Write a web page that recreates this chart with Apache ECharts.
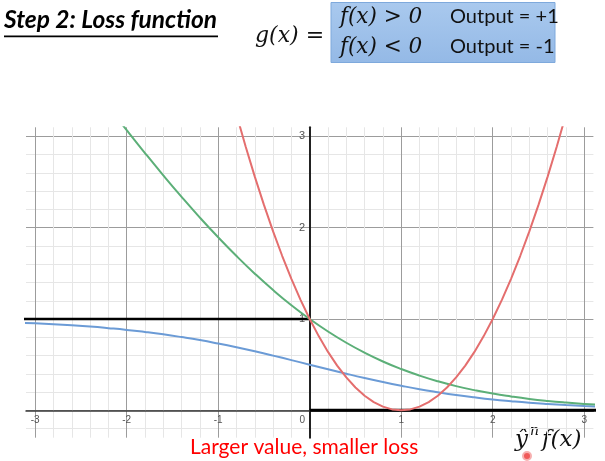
<!DOCTYPE html>
<html>
<head>
<meta charset="utf-8">
<script src="https://cdn.jsdelivr.net/npm/echarts@6/dist/echarts.min.js"></script>
<style>
html,body{margin:0;padding:0;background:#fff;}
#chart{width:605px;height:461px;}
</style>
</head>
<body>
<div id="chart"></div>
<script>
// ---- data ----
const xLabelValues = [-3, -2, -1, 0, 1, 2, 3];
const yLabelValues = [1, 2, 3];

// red curve (square loss)
const redX = [-0.8,-0.7,-0.6,-0.5,-0.4,-0.3,-0.2,-0.1,0,0.1,0.2,0.3,0.4,0.5,0.6,0.7,0.8,0.9,1.0,1.1,1.2,1.3,1.4,1.5,1.6,1.7,1.8,1.9,2.0,2.1,2.2,2.3,2.4,2.5,2.6,2.7,2.8];
const redY = [3.24,2.89,2.56,2.25,1.96,1.69,1.44,1.21,1.00,0.81,0.64,0.49,0.36,0.25,0.16,0.09,0.04,0.01,0.00,0.01,0.04,0.09,0.16,0.25,0.36,0.49,0.64,0.81,1.00,1.21,1.44,1.69,1.96,2.25,2.56,2.89,3.24];

// green curve (cross entropy)
const greenX = [-2.2,-2.0,-1.8,-1.6,-1.4,-1.2,-1.0,-0.8,-0.6,-0.4,-0.2,0,0.2,0.4,0.6,0.8,1.0,1.2,1.4,1.6,1.8,2.0,2.2,2.4,2.6,2.8,3.0,3.2];
const greenY = [3.326,3.069,2.818,2.574,2.338,2.111,1.895,1.690,1.497,1.317,1.151,1.000,0.863,0.740,0.631,0.535,0.452,0.380,0.318,0.265,0.221,0.183,0.152,0.125,0.103,0.085,0.070,0.058];

// blue curve (sigmoid)
const blueX = [-3.2,-3.0,-2.8,-2.6,-2.4,-2.2,-2.0,-1.8,-1.6,-1.4,-1.2,-1.0,-0.8,-0.6,-0.4,-0.2,0,0.2,0.4,0.6,0.8,1.0,1.2,1.4,1.6,1.8,2.0,2.2,2.4,2.6,2.8,3.0,3.2];
const blueY = [0.961,0.953,0.943,0.931,0.917,0.900,0.881,0.858,0.832,0.802,0.769,0.731,0.690,0.646,0.599,0.550,0.500,0.450,0.401,0.354,0.310,0.269,0.231,0.198,0.168,0.142,0.119,0.100,0.083,0.069,0.057,0.047,0.039];

// black ideal (step) loss
const stepLeftX = [-3.2, 0];
const stepLeftY = [1, 1];
const stepRightX = [0, 3.2];
const stepRightY = [0, 0];

function pairs(xs, ys) { return xs.map((x, i) => [x, ys[i]]); }

const MAJ = '#9c9c9c', MIN = '#e6e6e6', NONE = 'rgba(0,0,0,0)';
const isInt = v => Math.abs(v - Math.round(v)) < 1e-6;

const chart = echarts.init(document.getElementById('chart'), null, {renderer: 'canvas'});
const option = {
  animation: false,
  backgroundColor: '#fff',
  grid: {left: 26, right: 11.6, top: 127.3, bottom: 23.3, containLabel: false},
  xAxis: {
    type: 'value', min: -3.1, max: 3.1, interval: 0.1,
    axisLine: {show: true, onZero: true, lineStyle: {color: '#3a3a3a', width: 1.5}},
    axisTick: {show: false},
    axisLabel: {
      show: true, margin: -22.5, fontSize: 10, color: '#555', fontFamily: 'Liberation Sans',
      showMinLabel: true, showMaxLabel: true, hideOverlap: false,
      formatter: v => {
        if (!isInt(v)) return '';
        const r = Math.round(v);
        if (xLabelValues.indexOf(r) < 0) return '';
        if (r === 0) return '0\u2002\u2002\u2002';
        return String(r);
      }
    },
    splitLine: {show: true, lineStyle: {width: 1, color: [NONE, MAJ, NONE, MIN, NONE, MIN, NONE, MIN, NONE, MIN]}}
  },
  yAxis: {
    type: 'value', min: -0.3, max: 3.1, interval: 0.1,
    axisLine: {show: true, onZero: true, lineStyle: {color: '#222', width: 2}},
    axisTick: {show: false},
    axisLabel: {
      show: true, margin: -279.2, fontSize: 11, color: '#555', fontFamily: 'Liberation Sans',
      hideOverlap: false,
      formatter: v => {
        if (!isInt(v)) return '';
        const r = Math.round(v);
        return yLabelValues.indexOf(r) >= 0 ? String(r) : '';
      }
    },
    splitLine: {show: true, lineStyle: {width: 1, color: [NONE, MIN, NONE, MAJ, NONE, MIN, NONE, MIN, NONE, MIN]}}
  },
  series: [
    {type: 'line', data: pairs(stepLeftX, stepLeftY), showSymbol: false, lineStyle: {color: '#000', width: 2.5}, z: 3},
    {type: 'line', data: pairs(stepRightX, stepRightY), showSymbol: false, lineStyle: {color: '#000', width: 3}, z: 3},
    {type: 'line', data: pairs(blueX, blueY), smooth: true, showSymbol: false, lineStyle: {color: '#6b9bd6', width: 2}, z: 4},
    {type: 'line', data: pairs(greenX, greenY), smooth: true, showSymbol: false, lineStyle: {color: '#5caf78', width: 2}, z: 5},
    {type: 'line', data: pairs(redX, redY), showSymbol: false, lineStyle: {color: '#e46e6e', width: 2}, z: 6}
  ],
  graphic: [
    {type: 'text', left: 4, top: 8, style: {text: 'Step 2: Loss function', font: 'italic bold 24.5px Lato', fill: '#000'}},
    {type: 'rect', shape: {x: 4, y: 35.5, width: 214, height: 1.8}, style: {fill: '#000'}},
    {type: 'text', x: 255, y: 36, style: {text: 'g(x) =', font: 'italic 22px "DejaVu Serif"', fill: '#111', verticalAlign: 'middle'}},
    {type: 'rect', shape: {x: 331, y: 2.5, width: 224, height: 60},
      style: {fill: new echarts.graphic.LinearGradient(0, 0, 0, 1, [{offset: 0, color: '#a9c9ee'}, {offset: 1, color: '#94b9e6'}]), stroke: '#7ea9dc', lineWidth: 1}},
    {type: 'text', x: 340, y: 17, style: {text: 'f(x) > 0', font: 'italic 21.5px "DejaVu Serif"', fill: '#111', verticalAlign: 'middle'}},
    {type: 'text', x: 340, y: 47, style: {text: 'f(x) < 0', font: 'italic 21.5px "DejaVu Serif"', fill: '#111', verticalAlign: 'middle'}},
    {type: 'text', x: 450, y: 17, style: {text: 'Output = +1', font: '20px Lato', fill: '#111', verticalAlign: 'middle'}},
    {type: 'text', x: 450, y: 47, style: {text: 'Output = -1', font: '20px Lato', fill: '#111', verticalAlign: 'middle'}},
    {type: 'text', x: 190, y: 447, style: {text: 'Larger value, smaller loss', font: '21px Lato', fill: '#f00', verticalAlign: 'middle'}},
    {type: 'text', x: 515, y: 440, style: {text: 'ŷ', font: 'italic 23px "DejaVu Serif"', fill: '#111', verticalAlign: 'middle'}},
    {type: 'text', x: 530, y: 431, style: {text: 'n', font: 'italic 14px "DejaVu Serif"', fill: '#111', verticalAlign: 'middle'}},
    {type: 'text', x: 542, y: 440, style: {text: 'f(x)', font: 'italic 23px "DejaVu Serif"', fill: '#111', verticalAlign: 'middle'}},
    {type: 'circle', shape: {cx: 527, cy: 456, r: 4}, style: {fill: '#f05a5a', stroke: '#f7b0b0', lineWidth: 2}}
  ]
};
chart.setOption(option);
</script>
</body>
</html>
